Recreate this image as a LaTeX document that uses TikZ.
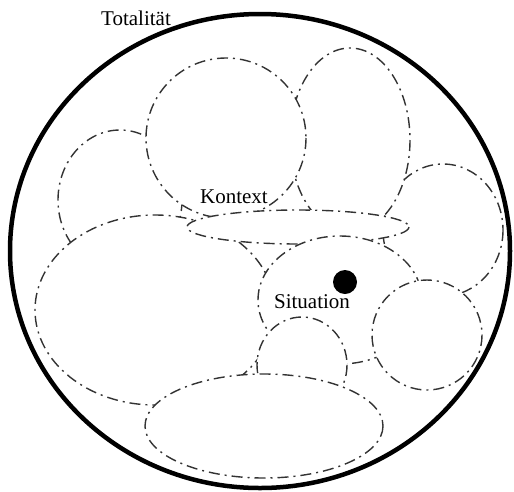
\documentclass[tikz,border=0pt]{standalone}
\usepackage{fontspec}
\setmainfont{Liberation Serif}

\tikzset{
  blob/.style={draw=black!80, fill=white, line width=1.4pt, dash pattern=on 11pt off 5pt on 2pt off 5pt},
  rand/.style={line width=4.5pt},
  beschr/.style={font=\fontsize{21}{24}\selectfont, inner sep=0pt}
}

\begin{document}
\begin{tikzpicture}[x=1pt,y=-1pt]
  \useasboundingbox (0,0) rectangle (514,491);
  \draw[rand] (260,251) ellipse [x radius=250, y radius=237];
  % later ones cover the earlier ones
  \foreach \cx/\cy/\rx/\ry in {443/230/60/66, 120/200/62/70, 350/140/60/92, 226/138/80/80,
      155/310/120/95, 298/227/111/17, 340/300/82/64, 427/335/55/55, 302/365/45/48, 264/426/119/52}
    \draw[blob] (\cx,\cy) ellipse [x radius=\rx, y radius=\ry];
  \node[circle, fill, minimum size=24pt, inner sep=0pt] (punkt) at (345,282) {};
  \node[beschr] (totalitaet) at (136,18) {Totalität};
  \node[beschr] (kontext) at (234,197) {Kontext};
  \node[beschr] (situation) at (312,302) {Situation};
\end{tikzpicture}
\end{document}
